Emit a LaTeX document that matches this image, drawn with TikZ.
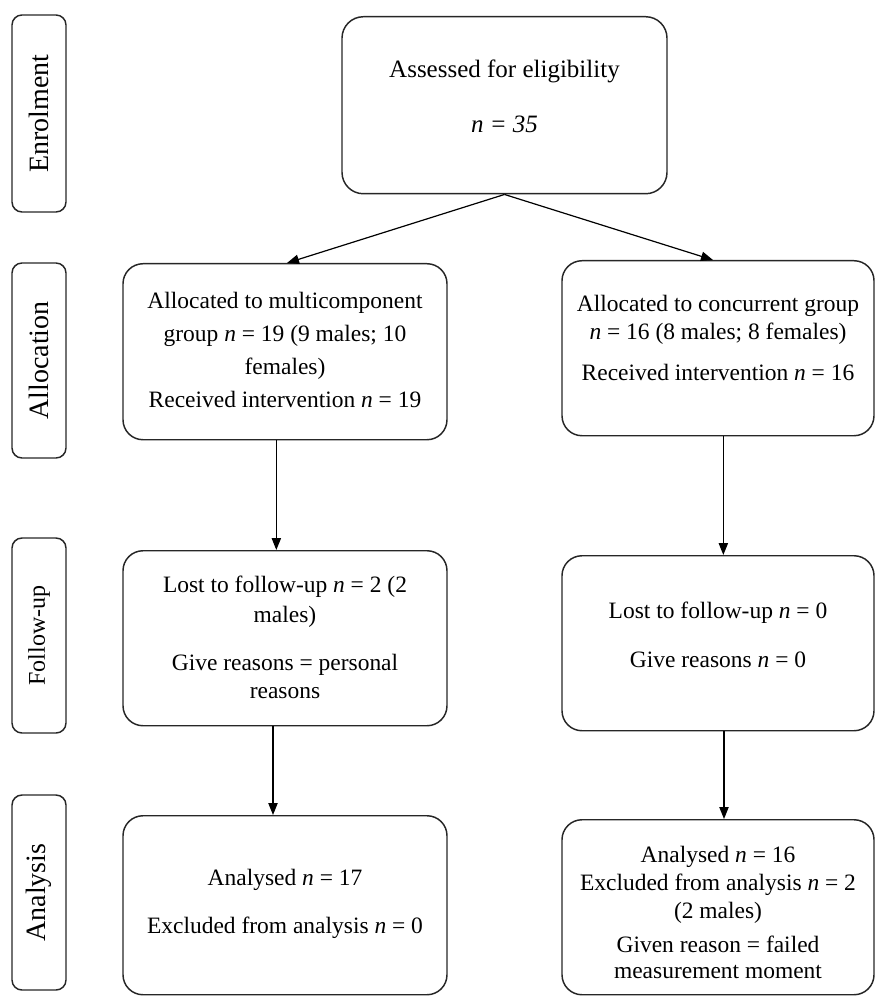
\documentclass[tikz,border=0pt]{standalone}
\usepackage{fontspec}
\setmainfont{Liberation Serif}
\usetikzlibrary{arrows.meta}
\newcommand\tp[1]{\rule{0pt}{#1}}
\newcommand\bt[1]{\rule[-#1]{0pt}{#1}}
\newcommand\nn{\textit{n}}
\begin{document}
\begin{tikzpicture}[x=0.75pt,y=-0.75pt,
  box/.style={draw=black!85, line width=1.1pt, rounded corners=15pt, align=center,
    inner sep=0pt, anchor=north, font=\fontsize{17.6pt}{21pt}\selectfont},
  side/.style={draw=black!85, line width=1.1pt, rounded corners=7.5pt, rotate=90,
    inner sep=0pt, minimum height=40.5pt, font=\fontsize{21pt}{25pt}\selectfont},
  arr/.style={-{Triangle[length=9pt,width=7pt]}, line width=0.9pt, black}]
\useasboundingbox (0,0) rectangle (876,998);

\node[side, minimum width=147.75pt] (s1) at (39,113.5) {Enrolment};
\node[side, minimum width=146.25pt] (s2) at (39,360.5) {Allocation};
\node[side, minimum width=146.25pt, font=\fontsize{18pt}{22pt}\selectfont] (s3) at (39,635.5) {Follow-up};
\node[side, minimum width=146.25pt] (s4) at (39,892.5) {Analysis};

\node[box, minimum width=243.75pt, minimum height=132.75pt, rounded corners=16pt,
  font=\fontsize{18.75pt}{21pt}\selectfont] (top) at (504.5,16)
  {\tp{45.75pt}Assessed for eligibility\\[20.25pt]\textit{n = 35}\bt{45.75pt}};

\node[box, minimum width=243pt, minimum height=132pt] (a1) at (285,263)
  {\tp{33.75pt}Allocated to multicomponent\\[3.75pt]group \nn{} = 19 (9 males; 10\\[3.75pt]females)\\[3.75pt]Received intervention \nn{} = 19\bt{24pt}};
\node[box, minimum width=234pt, minimum height=131.25pt] (a2) at (718,260)
  {\tp{38.25pt}Allocated to concurrent group\\ \nn{} = 16 (8 males; 8 females)\\[9.75pt]Received intervention \nn{} = 16\bt{41.25pt}};

\node[box, minimum width=243pt, minimum height=131.25pt] (f1) at (285,550)
  {\tp{31.5pt}Lost to follow-up \nn{} = 2 (2\\[1.5pt]males)\\[15pt]Give reasons = personal\\reasons\bt{20.25pt}};
\node[box, minimum width=234pt, minimum height=131.25pt] (f2) at (718,555)
  {\tp{47.25pt}Lost to follow-up \nn{} = 0\\[15.75pt]Give reasons \nn{} = 0\bt{47.25pt}};

\node[box, minimum width=243pt, minimum height=134.25pt] (n1) at (285,815)
  {\tp{52.5pt}Analysed \nn{} = 17\\[15pt]Excluded from analysis \nn{} = 0\bt{45.75pt}};
\node[box, minimum width=234pt, minimum height=131.25pt] (n2) at (718,819)
  {\tp{32.25pt}Analysed \nn{} = 16\\Excluded from analysis \nn{} = 2\\(2 males)\\[4.5pt]Given reason = failed\\[-1.5pt]measurement moment\bt{12pt}};

\draw[arr] (top.south) -- ([xshift=1.5pt]a1.north);
\draw[arr] (top.south) -- ([xshift=-3.75pt]a2.north);
\draw[arr] ([xshift=-6.5pt]a1.south) -- ([xshift=-6.5pt]f1.north);
\draw[arr] ([xshift=4pt]a2.south) -- ([xshift=4pt]f2.north);
\draw[arr] ([xshift=-9pt]f1.south) -- ([xshift=-9pt]n1.north);
\draw[arr] ([xshift=4.5pt]f2.south) -- ([xshift=4.5pt]n2.north);
\end{tikzpicture}
\end{document}
